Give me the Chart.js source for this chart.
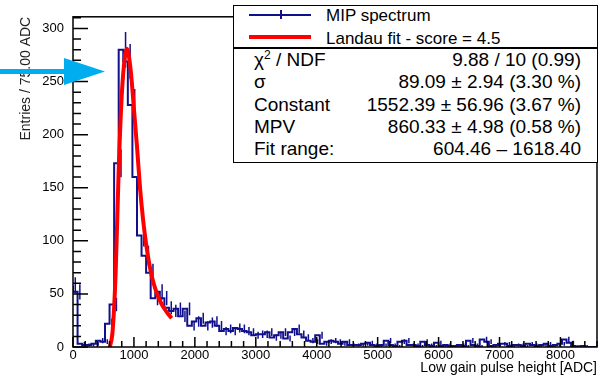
<!DOCTYPE html>
<html>
<head>
<meta charset="utf-8">
<script src="https://cdn.jsdelivr.net/npm/chart.js@4.4.1/dist/chart.umd.min.js"></script>
<style>
html, body { margin: 0; padding: 0; background: #fff; }
#wrap { position: relative; width: 605px; height: 377px; font-family: "Liberation Sans", Arial, sans-serif; color: #000; }
#wrap canvas { position: absolute; left: 0; top: 0; }
.box { position: absolute; left: 233px; top: 5px; width: 365px; height: 158px; box-sizing: border-box;
       border: 1.5px solid #000; background: #fff; }
.box div { position: absolute; white-space: nowrap; }
.sep { left: 0; right: 0; top: 41px; height: 1.5px; background: #000; }
.leg { font-size: 17px; line-height: 20px; left: 92px; }
.row { font-size: 19px; line-height: 22px; }
.lab { left: 20px; }
.val { right: 16px; text-align: right; }
</style>
</head>
<body>
<div id="wrap">
  <canvas id="hist" width="605" height="377"></canvas>
  <div class="box">
    <div style="left:15px;top:8px;width:62px;height:1.5px;background:#10108c"></div>
    <div style="left:46px;top:4px;width:1.5px;height:9px;background:#10108c"></div>
    <div style="left:15px;top:29px;width:62px;height:4px;background:#f00"></div>
    <div class="leg" style="top:0px">MIP spectrum</div>
    <div class="leg" style="top:22.5px">Landau fit - score = 4.5</div>
    <div class="sep"></div>
    <div class="row lab" style="top:42.7px">&chi;<span style="font-size:12px;position:relative;top:-7px">2</span> / NDF</div>
    <div class="row val" style="top:42.7px">9.88 / 10 (0.99)</div>
    <div class="row lab" style="top:65px">&sigma;</div>
    <div class="row val" style="top:65px">89.09 &plusmn; 2.94 (3.30 %)</div>
    <div class="row lab" style="top:87.5px">Constant</div>
    <div class="row val" style="top:87.5px">1552.39 &plusmn; 56.96 (3.67 %)</div>
    <div class="row lab" style="top:110px">MPV</div>
    <div class="row val" style="top:110px">860.33 &plusmn; 4.98 (0.58 %)</div>
    <div class="row lab" style="top:131.5px">Fit range:</div>
    <div class="row val" style="top:131.5px">604.46 &ndash; 1618.40</div>
  </div>
</div>
<script>
// histogram: 75 ADC bins starting at 0
var binWidth = 75;
var counts = [
    58, 52, 3, 2, 2, 3, 6, 5, 22, 40,
    173, 280, 269, 228, 160, 105, 86, 70, 46, 52,
    46, 37, 34, 36, 29, 36, 20, 24, 27, 20,
    23, 24, 20, 15, 17, 15, 18, 17, 15, 14,
    11, 12, 12, 14, 9, 11, 14, 8, 14, 17,
    12, 9, 6, 5, 11, 3, 5, 6, 5, 3,
    5, 2, 2, 2, 3, 4, 2, 1, 2, 6,
    2, 1, 5, 6, 2, 2, 1, 5, 2, 1,
    4, 1, 2, 1, 1, 2, 1, 6, 2, 1,
    7, 5, 1, 2, 3, 3, 1, 2, 2, 1,
    3, 2, 1, 2, 3, 1, 2, 3, 7, 4,
    1, 0, 1, 0, 0
];

// landau fit curve
var fitX = [604, 650, 700, 750, 800, 850, 880, 900, 950, 1000, 1050, 1100, 1150, 1200, 1250, 1300, 1350, 1400, 1450, 1500, 1550, 1618];
var fitY = [0, 15, 70, 167, 237, 273, 281, 279, 259, 224, 189, 150, 120, 97, 79, 65, 55, 47, 41, 36, 32, 27];

var xTicks = [0, 1000, 2000, 3000, 4000, 5000, 6000, 7000, 8000];
var yTicks = [0, 50, 100, 150, 200, 250, 300];
var xMax = 8600;
var yMax = 311;

var histColor = '#10108c';

var histPoints = counts.map(function (c, i) { return {x: i * binWidth, y: c}; });
histPoints.push({x: counts.length * binWidth, y: counts[counts.length - 1]});
var fitPoints = fitX.map(function (x, i) { return {x: x, y: fitY[i]}; });

var rootStyle = {
    id: 'rootStyle',
    afterDatasetDraw: function (chart, args) {
        if (args.index !== 0) return;
        // error bars on the histogram
        var ctx = chart.ctx, x = chart.scales.x, y = chart.scales.y, a = chart.chartArea;
        ctx.save();
        ctx.beginPath();
        ctx.rect(a.left, a.top, a.right - a.left, a.bottom - a.top);
        ctx.clip();
        ctx.strokeStyle = histColor;
        ctx.lineWidth = 1.5;
        counts.forEach(function (c, i) {
            if (c <= 0) return;
            var e = Math.sqrt(c);
            var px = x.getPixelForValue((i + 0.5) * binWidth);
            ctx.beginPath();
            ctx.moveTo(px, y.getPixelForValue(c - e));
            ctx.lineTo(px, y.getPixelForValue(c + e));
            ctx.stroke();
        });
        ctx.restore();
    },
    afterDraw: function (chart) {
        var ctx = chart.ctx, x = chart.scales.x, y = chart.scales.y, a = chart.chartArea;
        ctx.save();
        ctx.strokeStyle = '#000';
        ctx.lineWidth = 1.5;
        ctx.strokeRect(a.left, a.top, a.right - a.left, a.bottom - a.top);
        // inward ticks, ROOT style
        ctx.beginPath();
        for (var v = 0; v <= yMax; v += 10) {
            var py = y.getPixelForValue(v);
            var len = (v % 50 === 0) ? 15 : 8;
            ctx.moveTo(a.left, py);
            ctx.lineTo(a.left + len, py);
        }
        for (var u = 0; u <= xMax; u += 200) {
            var px = x.getPixelForValue(u);
            var l2 = (u % 1000 === 0) ? 10 : 6;
            ctx.moveTo(px, a.bottom);
            ctx.lineTo(px, a.bottom - l2);
        }
        ctx.stroke();
        // blue arrow pointing at the peak
        ctx.fillStyle = '#00aeef';
        ctx.fillRect(0, 69, 66, 5);
        ctx.beginPath();
        ctx.moveTo(64, 58);
        ctx.lineTo(105, 71.5);
        ctx.lineTo(64, 85);
        ctx.closePath();
        ctx.fill();
        ctx.restore();
    }
};

var ctx = document.getElementById('hist').getContext('2d');
var chart = new Chart(ctx, {
    type: 'line',
    data: {
        datasets: [{
            label: 'MIP spectrum',
            data: histPoints,
            borderColor: histColor,
            borderWidth: 2,
            stepped: 'after',
            pointRadius: 0,
            fill: false,
            order: 2
        }, {
            label: 'Landau fit - score = 4.5',
            data: fitPoints,
            borderColor: '#ff0000',
            borderWidth: 4,
            cubicInterpolationMode: 'monotone',
            pointRadius: 0,
            fill: false,
            order: 1
        }]
    },
    options: {
        responsive: false,
        animation: false,
        layout: {padding: {top: 6, right: 8, left: 0, bottom: 0}},
        plugins: {legend: {display: false}, tooltip: {enabled: false}},
        scales: {
            x: {
                type: 'linear',
                min: 0,
                max: xMax,
                afterFit: function (s) { s.height = 30; },
                afterBuildTicks: function (s) { s.ticks = xTicks.map(function (v) { return {value: v}; }); },
                grid: {display: false, drawTicks: false},
                border: {display: false},
                ticks: {autoSkip: false, maxRotation: 0, padding: 1, color: '#000',
                        font: {family: 'Liberation Sans', size: 13},
                        callback: function (v) { return String(v); }},
                title: {display: true, text: 'Low gain pulse height [ADC]', align: 'end', color: '#000',
                        padding: {top: 0, bottom: 0}, font: {family: 'Liberation Sans', size: 14}}
            },
            y: {
                type: 'linear',
                min: 0,
                max: yMax,
                afterFit: function (s) { s.width = 73; },
                afterBuildTicks: function (s) { s.ticks = yTicks.map(function (v) { return {value: v}; }); },
                grid: {display: false, drawTicks: false},
                border: {display: false},
                ticks: {padding: 9, color: '#000', font: {family: 'Liberation Sans', size: 13},
                        callback: function (v) { return String(v); }},
                title: {display: true, text: 'Entries / 75.00 ADC', align: 'end', color: '#222',
                        padding: {top: 18, bottom: 0}, font: {family: 'Liberation Sans', size: 14}}
            }
        }
    },
    plugins: [rootStyle]
});
</script>
</body>
</html>
